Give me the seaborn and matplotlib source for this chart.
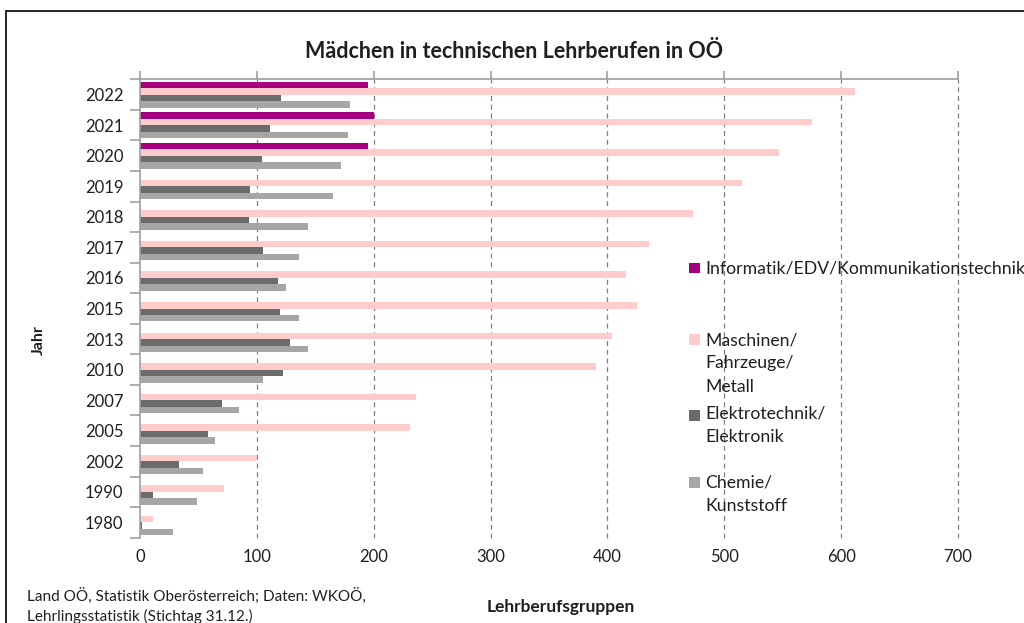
import numpy as np
import pandas as pd
import matplotlib
matplotlib.use("Agg")
import matplotlib.pyplot as plt
from matplotlib.patches import Rectangle
from matplotlib.ticker import FixedLocator
import seaborn as sns

# ---- data ----
years = ["2022", "2021", "2020", "2019", "2018", "2017", "2016", "2015",
         "2013", "2010", "2007", "2005", "2002", "1990", "1980"]
informatik = [195, 200, 195, None, None, None, None, None,
              None, None, None, None, None, None, None]
maschinen = [612, 575, 547, 515, 473, 436, 416, 425, 404, 390, 236, 231, 100, 72, 11]
elektro = [121, 111, 104, 94, 93, 105, 118, 120, 128, 122, 70, 58, 33, 11, 2]
chemie = [180, 178, 172, 165, 144, 136, 125, 136, 144, 105, 85, 64, 54, 49, 28]

series_names = ["Informatik/EDV/Kommunikationstechnik",
                "Maschinen/Fahrzeuge/Metall",
                "Elektrotechnik/Elektronik",
                "Chemie/Kunststoff"]
legend_lines = [["Informatik/EDV/Kommunikationstechnik"],
                ["Maschinen/", "Fahrzeuge/", "Metall"],
                ["Elektrotechnik/", "Elektronik"],
                ["Chemie/", "Kunststoff"]]
colors = ["#A6007E", "#FFCCCC", "#6B6B6B", "#A6A6A6"]
xticks = [0, 100, 200, 300, 400, 500, 600, 700]

title = "Mädchen in technischen Lehrberufen in OÖ"
ylabel = "Jahr"
xlabel = "Lehrberufsgruppen"
source = ["Land OÖ, Statistik Oberösterreich; Daten: WKOÖ,",
          "Lehrlingsstatistik (Stichtag 31.12.)"]

rows = []
for name, vals in zip(series_names, [informatik, maschinen, elektro, chemie]):
    for y, v in zip(years, vals):
        if v is not None:
            rows.append({"Jahr": y, "Gruppe": name, "Wert": v})
df = pd.DataFrame(rows)

# ---- style ----
sns.set_theme(style="white")
plt.rcParams["font.family"] = ["Lato", "DejaVu Sans"]
txt = "#1f1f1f"

W, H = 1024, 623
fig = plt.figure(figsize=(W / 100, H / 100), dpi=100)
ax_l, ax_r, ax_t, ax_b = 140, 958, 79.3, 537.7
ax = fig.add_axes([ax_l / W, 1 - ax_b / H, (ax_r - ax_l) / W, (ax_b - ax_t) / H])

sns.barplot(data=df, y="Jahr", x="Wert", hue="Gruppe", order=years,
            hue_order=series_names, palette=colors, orient="h",
            width=0.85, dodge=True, saturation=1, errorbar=None,
            legend=False, ax=ax, linewidth=0)

ax.set_xlim(0, 700)
ax.set_ylim(len(years) - 0.5, -0.5)
ax.set_xticks(xticks)
ax.set_xticklabels([str(t) for t in xticks])
ax.set_xlabel("")
ax.set_ylabel("")

# grid
for t in xticks[1:]:
    ax.axvline(t, color="#808080", lw=0.9, linestyle=(0, (4, 3)), zorder=0,
               clip_on=False)

# spines
for s in ["right", "bottom"]:
    ax.spines[s].set_visible(False)
for s in ["left", "top"]:
    ax.spines[s].set_visible(True)
    ax.spines[s].set_color("#A0A0A0")
    ax.spines[s].set_linewidth(1.2)

ax.tick_params(axis="x", top=True, bottom=False, labeltop=False, labelbottom=True,
               direction="out", length=6, width=1.2, color="#A0A0A0",
               labelsize=12, labelcolor=txt, pad=2)
ax.yaxis.set_minor_locator(FixedLocator(np.arange(-0.5, len(years), 1.0)))
ax.tick_params(axis="y", which="major", length=0, labelsize=12, labelcolor=txt, pad=12)
ax.tick_params(axis="y", which="minor", left=True, length=7, width=1.2,
               color="#A0A0A0", direction="out")

# labels
fig.text(514 / W, 1 - 52 / H, title, ha="center", va="center",
         fontsize=15.5, fontweight="bold", color=txt)
fig.text(39 / W, 1 - 340 / H, ylabel, ha="center", va="center", rotation=90,
         fontsize=11.5, fontweight="bold", color=txt)
fig.text(561 / W, 1 - 607 / H, xlabel, ha="center", va="center",
         fontsize=12.5, fontweight="bold", color=txt)
fig.text(27 / W, 1 - 601 / H, source[0], ha="left", va="baseline",
         fontsize=11, color=txt)
fig.text(27 / W, 1 - 621 / H, source[1], ha="left", va="baseline",
         fontsize=11, color=txt)

# legend (manual, Excel-style spacing)
leg_sq = [267.8, 339.3, 415.5, 482.3]
leg_base = [273.0, 345.0, 418.3, 487.3]
line_step = 23.4
for lines, c, sq, base in zip(legend_lines, colors, leg_sq, leg_base):
    fig.patches.append(Rectangle(((689.3) / W, 1 - (sq + 5.3) / H), 10.5 / W, 10.5 / H,
                                 transform=fig.transFigure, facecolor=c,
                                 edgecolor="none", figure=fig))
    for i, ln in enumerate(lines):
        fig.text(705.5 / W, 1 - (base + i * line_step) / H, ln, ha="left",
                 va="baseline", fontsize=12.7, color=txt)

# outer frame
fig.patches.append(Rectangle((5.5 / W, -0.1), 1.2, 1 - 11.5 / H + 0.1,
                             transform=fig.transFigure, facecolor="none",
                             edgecolor="black", lw=1.2, figure=fig))

fig.savefig("out.png", dpi=100)
